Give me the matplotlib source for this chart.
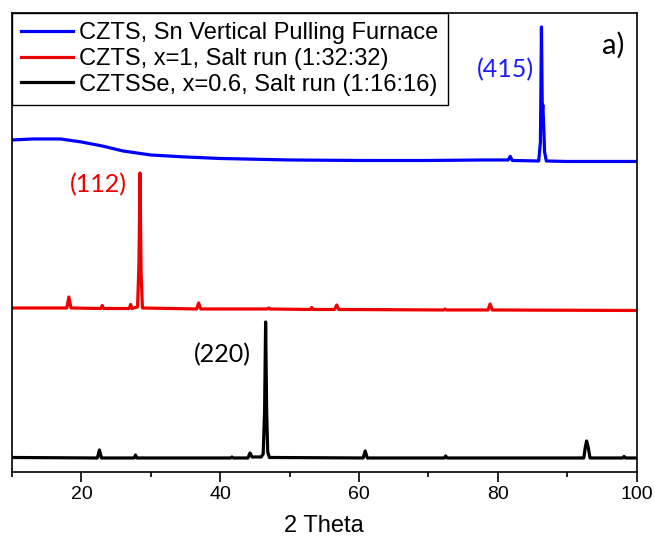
import matplotlib
matplotlib.use('Agg')
import matplotlib.pyplot as plt
from matplotlib.ticker import MultipleLocator

# traces (arbitrary intensity, already offset)
x_sn = [10, 13, 17, 20, 23, 26, 30, 35, 40, 50, 60, 70, 78, 81.5, 81.8, 82.1,
        85.9, 86.15, 86.3, 86.42, 86.5, 86.6, 86.75, 87.0, 90, 100]
y_sn = [332, 333, 333, 330, 326, 321, 317, 315, 313.5, 312, 311.5, 311.5, 312, 312, 315.5, 311.5,
        311, 330, 445, 360, 367, 350, 320, 311, 310.5, 310.5]

x_salt = [10, 17.9, 18.2, 18.5, 22.8, 23.0, 23.2, 26.9, 27.1, 27.3, 28.1, 28.3, 28.45, 28.6, 28.8,
          36.6, 36.9, 37.2, 46.8, 47.0, 47.2, 53.0, 53.2, 53.4, 56.5, 56.8, 57.1, 72.2, 72.4, 72.6,
          78.6, 78.9, 79.2, 100]
y_salt = [164, 164, 175, 164, 163.5, 166.5, 163.5, 163.5, 167.5, 163.5, 165, 210, 299, 200, 164,
          163, 169, 163, 163, 164, 163, 162.5, 164.5, 162.5, 162.5, 167, 162.5, 162, 163, 162,
          162, 168, 162, 161.5]

x_se = [10, 22.3, 22.6, 22.9, 27.6, 27.8, 28.0, 41.5, 41.7, 41.9, 44.0, 44.3, 44.6, 45.9, 46.2, 46.4,
        46.55, 46.7, 46.85, 47.1, 60.6, 60.9, 61.2, 72.3, 72.5, 72.7, 92.4, 92.6, 92.8, 93.0, 93.3,
        98.0, 98.2, 98.4, 100]
y_se = [14.5, 14, 22, 14, 14, 17, 14, 14, 15, 14, 14, 19, 15, 15, 18, 60,
        150, 60, 20, 14.5, 14, 21, 14, 14, 16, 14, 14, 24, 31, 26, 14,
        14, 15.5, 14, 14]

labels = ['CZTS, Sn Vertical Pulling Furnace',
          'CZTS, x=1, Salt run (1:32:32)',
          'CZTSSe, x=0.6, Salt run (1:16:16)']

fig = plt.figure(figsize=(6.55, 5.43), dpi=100)
ax = fig.add_axes([0.0183, 0.1308, 0.9535, 0.8453])

ax.plot(x_sn, y_sn, color='#0000ff', lw=2.3, label=labels[0])
ax.plot(x_salt, y_salt, color='#ee0000', lw=2.3, label=labels[1])
ax.plot(x_se, y_se, color='black', lw=2.3, label=labels[2])

ax.set_xlim(10, 100)
ax.set_ylim(0, 459)
ax.set_yticks([])
ax.xaxis.set_major_locator(MultipleLocator(20))
ax.xaxis.set_minor_locator(MultipleLocator(10))
ax.tick_params(axis='x', which='major', direction='out', length=7, width=1.2,
               labelsize=14, pad=3)
ax.tick_params(axis='x', which='minor', direction='out', length=3.5, width=1.2)
for lab in ax.get_xticklabels():
    lab.set_family('Liberation Sans')
for s in ax.spines.values():
    s.set_linewidth(1.2)
ax.set_xlabel('2 Theta', fontsize=17, family='Liberation Sans', labelpad=9)

leg = ax.legend(loc='upper left', fancybox=False, framealpha=1, edgecolor='black',
                borderpad=0.4, borderaxespad=0, handlelength=2.2, handletextpad=0.25,
                labelspacing=0.15, prop={'family': 'Liberation Sans', 'size': 17})
leg.get_frame().set_linewidth(1.0)

ax.text(81.1, 402, '(415)', color='#1a1aff', fontsize=18, family='Lato', ha='center', va='center')
ax.text(22.4, 287, '(112)', color='#ee0000', fontsize=18, family='Lato', ha='center', va='center')
ax.text(40.3, 117, '(220)', color='black', fontsize=18, family='Lato', ha='center', va='center')
ax.text(96.6, 427, 'a)', color='black', fontsize=21, family='Lato', ha='center', va='center')

fig.savefig('out.png', dpi=100)
